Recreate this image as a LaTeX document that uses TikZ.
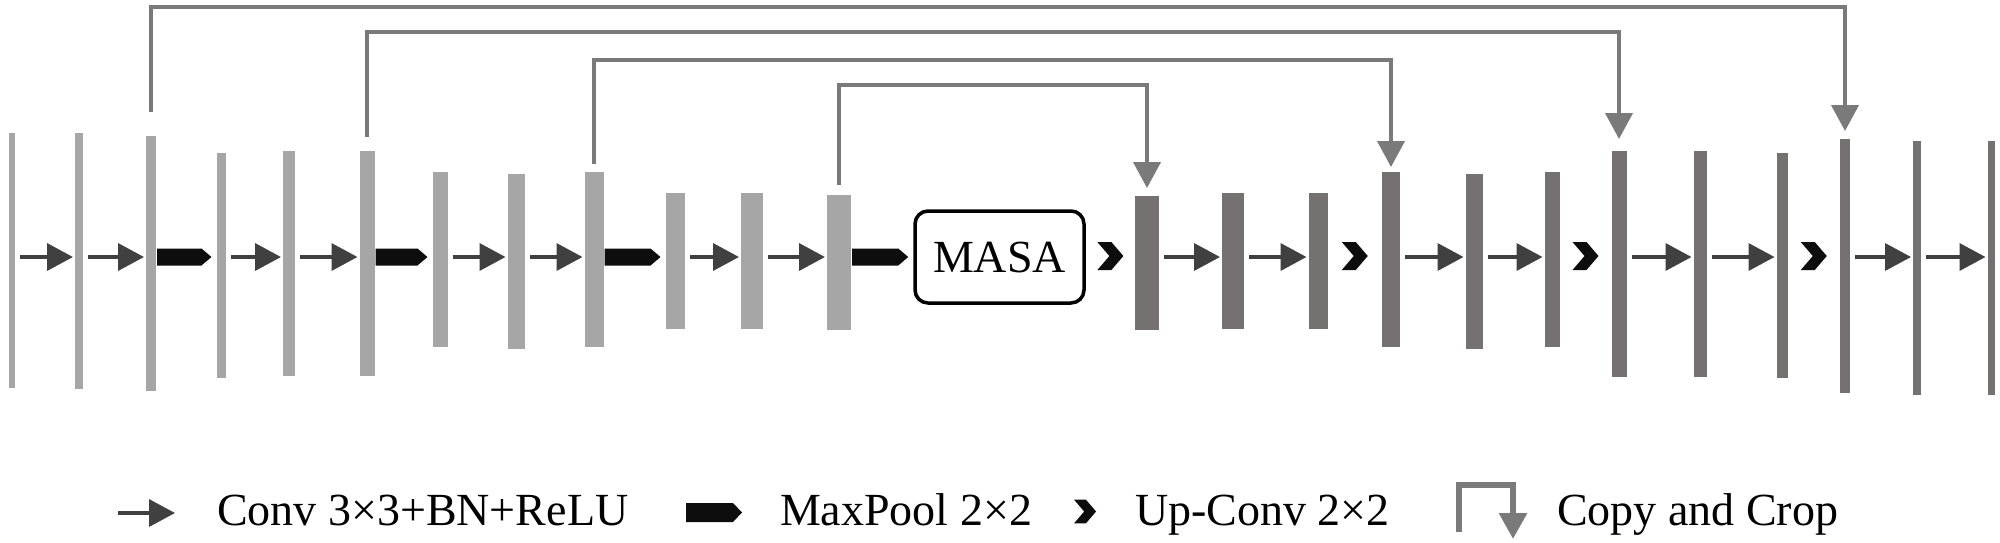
\documentclass[tikz,border=0pt]{standalone}
\usepackage{fontspec}
\setmainfont{Liberation Serif}
\usetikzlibrary{arrows.meta,calc}
\definecolor{encc}{RGB}{166,166,166}
\definecolor{decc}{RGB}{118,113,113}
\definecolor{skipc}{RGB}{122,122,122}
\definecolor{convc}{RGB}{64,64,64}
\definecolor{poolc}{RGB}{13,13,13}
\tikzset{
  barbox/.style={draw=none, inner sep=0pt, outer sep=0pt, rectangle},
  conv/.style={draw=convc, line width=1.8pt, -{Triangle[length=13pt,width=13.5pt]}},
  skipln/.style={draw=skipc, line width=2pt, -{Triangle[length=13pt,width=13.5pt]}},
  masabox/.style={draw=black, line width=1.75pt, rounded corners=6.5pt, inner sep=0pt,
    minimum width=84.5pt, minimum height=46pt, font=\fontsize{23}{27}\selectfont},
  lbl/.style={anchor=base west, inner sep=0pt, outer sep=0pt, font=\fontsize{23}{27}\selectfont},
  chev/.pic={\fill[poolc] (-13,-14) -- (1,-14) -- (13,0) -- (1,14) -- (-13,14) -- (-1,0) -- cycle;}
}
% bar: name, x centre, width, top, bottom, colour
\newcommand\mkbar[6]{\node[barbox,fill=#6,minimum width=#3*0.5pt,minimum height={(#5-#4)*0.5pt}] (#1) at (#2,{(#4+#5)/2}) {};}
% conv arrow between two bars
\newcommand\convconn[2]{\draw[conv] ([xshift=2.5pt]#1.east |- ml) -- ([xshift=-1pt]#2.west |- ml);}
% pentagon: start coord, end coord, half height, tip length
\newcommand\poolshape[4]{\fill[poolc] ($#1+(0,-#3)$) -- ($#2+(-#4,-#3)$) -- #2 -- ($#2+(-#4,#3)$) -- ($#1+(0,#3)$) -- cycle;}
\newcommand\poolconn[2]{%
  \path (#1.east |- ml) ++(1,0) coordinate (pa);
  \path (#2.west |- ml) ++(-5,0) coordinate (pb);
  \poolshape{(pa)}{(pb)}{8.5}{10}}
\newcommand\upconn[2]{%
  \path ($(#1.east)!0.5!(#2.west)$) coordinate (uc);
  \pic at ([yshift=0.5pt]uc |- ml) {chev};}
\begin{document}
\begin{tikzpicture}[x=0.5pt,y=-0.5pt]
\fill[white] (0,0) rectangle (2000,542);
\useasboundingbox (0,0) rectangle (2000,542);
\coordinate (ml) at (0,257);
\coordinate (l1) at (0,7);
\coordinate (l2) at (0,32);
\coordinate (l3) at (0,60);
\coordinate (l4) at (0,85);
% encoder bars
\mkbar{e1}{12}{6}{133}{388}{encc}
\mkbar{e2}{79}{8}{133}{389}{encc}
\mkbar{e3}{151}{10}{136}{391}{encc}
\mkbar{e4}{221}{9}{153}{378}{encc}
\mkbar{e5}{289}{12}{151}{376}{encc}
\mkbar{e6}{367}{15}{151}{376}{encc}
\mkbar{e7}{440}{15}{172}{347}{encc}
\mkbar{e8}{516}{17}{174}{349}{encc}
\mkbar{e9}{594}{19}{172}{347}{encc}
\mkbar{e10}{675}{19}{193}{329}{encc}
\mkbar{e11}{752}{22}{193}{329}{encc}
\mkbar{e12}{839}{24}{195}{330}{encc}
% MASA
\node[masabox] (masa) at (999.5,257) {MASA};
% decoder bars
\mkbar{d1}{1147}{24}{196}{330}{decc}
\mkbar{d2}{1233}{22}{193}{329}{decc}
\mkbar{d3}{1318}{19}{193}{329}{decc}
\mkbar{d4}{1391}{18}{172}{347}{decc}
\mkbar{d5}{1474}{17}{174}{349}{decc}
\mkbar{d6}{1552}{15}{172}{347}{decc}
\mkbar{d7}{1619}{15}{151}{377}{decc}
\mkbar{d8}{1700}{13}{151}{377}{decc}
\mkbar{d9}{1782}{11}{153}{378}{decc}
\mkbar{d10}{1845}{10}{139}{393}{decc}
\mkbar{d11}{1917}{8}{141}{395}{decc}
\mkbar{d12}{1991}{7}{141}{395}{decc}
% conv arrows
\convconn{e1}{e2}\convconn{e2}{e3}
\convconn{e4}{e5}\convconn{e5}{e6}
\convconn{e7}{e8}\convconn{e8}{e9}
\convconn{e10}{e11}\convconn{e11}{e12}
\convconn{d1}{d2}\convconn{d2}{d3}
\convconn{d4}{d5}\convconn{d5}{d6}
\convconn{d7}{d8}\convconn{d8}{d9}
\convconn{d10}{d11}\convconn{d11}{d12}
% max pooling
\poolconn{e3}{e4}
\poolconn{e6}{e7}
\poolconn{e9}{e10}
\poolconn{e12}{masa}
% up-convolutions
\upconn{masa}{d1}
\upconn{d3}{d4}
\upconn{d6}{d7}
\upconn{d9}{d10}
% copy and crop
\draw[skipln] ([yshift=12pt]e3.north) -- (e3.north |- l1) -| ([yshift=4pt]d10.north);
\draw[skipln] ([yshift=7pt]e6.north) -- (e6.north |- l2) -| ([yshift=6pt]d7.north);
\draw[skipln] ([yshift=4pt]e9.north) -- (e9.north |- l3) -| ([yshift=2.5pt]d4.north);
\draw[skipln] ([yshift=5pt]e12.north) -- (e12.north |- l4) -| ([yshift=4pt]d1.north);
% legend
\coordinate (la1) at (118,513);
\coordinate (la2) at (175,513);
\draw[conv] (la1) -- (la2);
\node[lbl] (t1) at (217,525) {Conv 3×3+BN+ReLU};
\coordinate (lp1) at (686,512.5);
\coordinate (lp2) at (742,512.5);
\poolshape{(lp1)}{(lp2)}{9.5}{9}
\node[lbl] (t2) at (780,525) {MaxPool 2×2};
\pic[scale=0.85] at (1085,511.5) {chev};
\node[lbl] (t3) at (1135,525) {Up-Conv 2×2};
\coordinate (lc1) at (1459,532);
\coordinate (lct) at (1513,485);
\coordinate (lc2) at (1513,539);
\draw[skipln, line width=3pt] (lc1) |- (lct) -- (lc2);
\node[lbl] (t4) at (1557,525) {Copy and Crop};
\end{tikzpicture}
\end{document}
